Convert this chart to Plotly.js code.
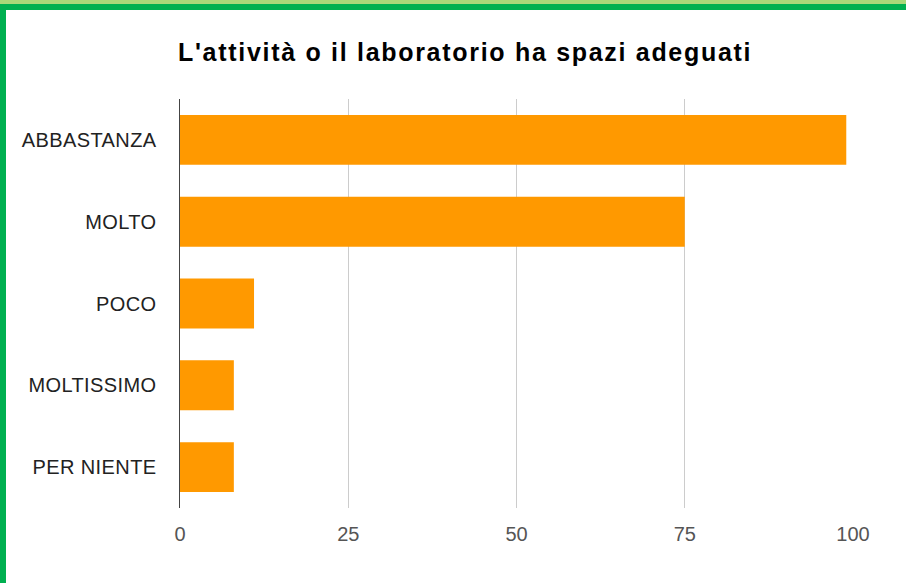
<!DOCTYPE html>
<html>
<head>
<meta charset="utf-8">
<script src="https://cdn.plot.ly/plotly-3.0.1.min.js"></script>
<style>
html,body{margin:0;padding:0;background:#fff;overflow:hidden;}
#wrap{position:relative;width:906px;height:583px;}
#chart{position:absolute;left:0;top:0;width:906px;height:583px;}
.bTop1{position:absolute;left:0;top:0;width:906px;height:4px;background:#a9d879;}
.bTop2{position:absolute;left:0;top:4px;width:906px;height:6px;background:#00b050;}
.bLeft{position:absolute;left:0;top:4px;width:6px;height:579px;background:#00b050;}
#chart .gtitle{letter-spacing:1.7px;}
#chart .ytick text{letter-spacing:0.4px;}
</style>
</head>
<body>
<div id="wrap">
<div id="chart"></div>
<div class="bTop1"></div>
<div class="bTop2"></div>
<div class="bLeft"></div>
</div>
<script>
var categories = ["ABBASTANZA", "MOLTO", "POCO", "MOLTISSIMO", "PER NIENTE"];
var values = [99, 75, 11, 8, 8];
var xTicks = [0, 25, 50, 75, 100];
var chartTitle = "L'attività o il laboratorio ha spazi adeguati";

var trace = {
  type: 'bar',
  orientation: 'h',
  y: categories,
  x: values,
  marker: {color: '#ff9900', line: {width: 0}},
  hoverinfo: 'x+y'
};

var layout = {
  width: 906,
  height: 583,
  margin: {l: 180, r: 53, t: 99, b: 75, pad: 0},
  paper_bgcolor: '#ffffff',
  plot_bgcolor: '#ffffff',
  showlegend: false,
  bargap: 0.39,
  font: {family: 'Liberation Sans, Arial, sans-serif'},
  title: {
    text: chartTitle,
    font: {family: 'Liberation Sans, Arial, sans-serif', size: 25, color: '#000000', weight: 'bold'},
    xref: 'container', yref: 'container',
    x: 178/906, xanchor: 'left',
    y: 1 - 52/583, yanchor: 'middle'
  },
  xaxis: {
    range: [0, 100],
    tickvals: xTicks,
    ticktext: xTicks.map(String),
    showgrid: true,
    gridcolor: '#cccccc',
    gridwidth: 1,
    zeroline: false,
    showline: false,
    ticks: '',
    ticklabelstandoff: 12,
    tickfont: {size: 20, color: '#555555'},
    fixedrange: true
  },
  yaxis: {
    type: 'category',
    autorange: 'reversed',
    showgrid: false,
    zeroline: false,
    showline: true,
    linecolor: '#444444',
    linewidth: 1.5,
    ticks: '',
    ticklabelstandoff: 18,
    tickfont: {size: 20, color: '#222222'},
    fixedrange: true
  }
};

Plotly.newPlot('chart', [trace], layout, {displayModeBar: false, staticPlot: true});
</script>
</body>
</html>
